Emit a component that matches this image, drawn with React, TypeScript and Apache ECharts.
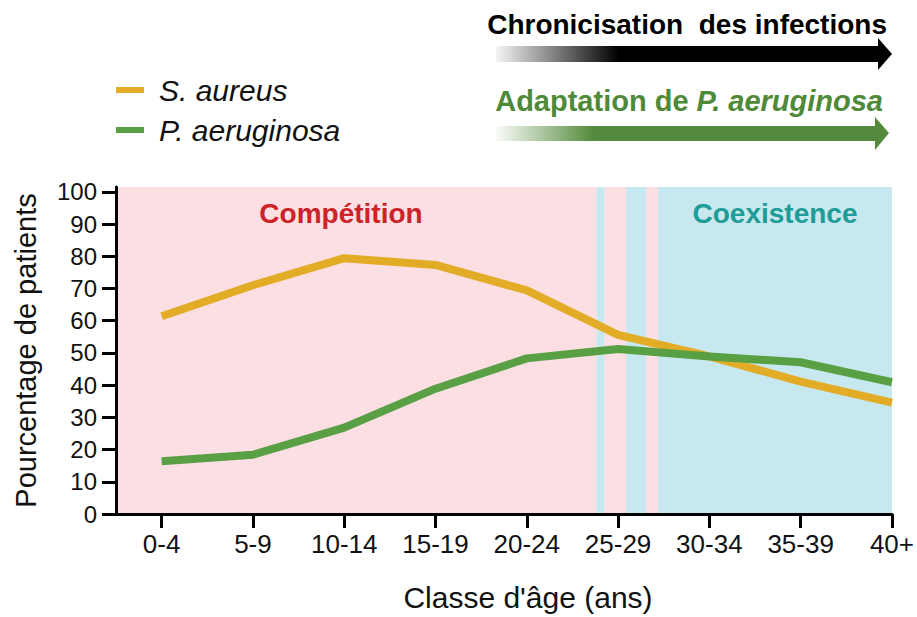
import React, { useEffect, useRef } from "react";
import * as echarts from "echarts";

const categories = ["0-4", "5-9", "10-14", "15-19", "20-24", "25-29", "30-34", "35-39", "40+"];
const sAureus = [61.4, 71.0, 79.4, 77.3, 69.4, 55.6, 48.9, 41.1, 34.6];
const pAeruginosa = [16.4, 18.4, 26.8, 38.9, 48.3, 51.2, 48.9, 47.1, 40.9];
const yTicks = [0, 10, 20, 30, 40, 50, 60, 70, 80, 90, 100];
// background phases: [from, to, phase]
const phases: [number, number, string][] = [
  [-0.5, 4.766, "comp"],
  [4.766, 4.853, "coex"],
  [4.853, 5.088, "comp"],
  [5.088, 5.306, "coex"],
  [5.306, 5.438, "comp"],
  [5.438, 8, "coex"],
];

const FONT = "'Liberation Sans', Arial, Helvetica, sans-serif";
const ORANGE = "#e2ac27";
const GREEN = "#58a043";
const PINK = "#fbdfe2";
const BLUE = "#c7e8ee";

export default function App() {
  const ref = useRef<HTMLDivElement>(null);
  useEffect(() => {
    if (!ref.current) return;
    const chart = echarts.init(ref.current, null, { renderer: "svg" });
    const xs = categories.map((_, i) => i);
    chart.setOption({
      animation: false,
      backgroundColor: "#ffffff",
      textStyle: { fontFamily: FONT },
      grid: { left: 116, right: 24, top: 187, bottom: 100, containLabel: false },
      legend: {
        orient: "vertical",
        left: 116,
        top: 75,
        padding: 0,
        itemGap: 10,
        itemWidth: 28,
        itemHeight: 6,
        icon: "rect",
        textStyle: { fontSize: 30, fontStyle: "italic", color: "#111", fontFamily: FONT, padding: [0, 0, 0, 10] },
        data: ["S. aureus", "P. aeruginosa"],
      },
      xAxis: {
        type: "value",
        min: -0.5,
        max: 8,
        z: 10,
        splitLine: { show: false },
        axisLine: { show: true, onZero: false, lineStyle: { color: "#000", width: 3 } },
        axisTick: { show: true, length: 14, lineStyle: { color: "#000", width: 3 }, customValues: xs },
        axisLabel: {
          customValues: xs,
          margin: 17,
          fontSize: 26,
          color: "#111",
          fontFamily: FONT,
          formatter: (v: number) => categories[Math.round(v)] ?? "",
        },
        name: "Classe d'âge (ans)",
        nameLocation: "middle",
        nameGap: 68,
        nameTextStyle: { fontSize: 30, color: "#111", fontFamily: FONT, padding: [0, 0, 0, 48] },
      },
      yAxis: {
        type: "value",
        min: 0,
        max: 101.5,
        z: 10,
        splitLine: { show: false },
        axisLine: { show: true, onZero: false, lineStyle: { color: "#000", width: 3 } },
        axisTick: { show: true, length: 14, lineStyle: { color: "#000", width: 3 }, customValues: yTicks },
        axisLabel: { customValues: yTicks, margin: 19, fontSize: 24, color: "#111", fontFamily: FONT },
        name: "Pourcentage de patients",
        nameLocation: "middle",
        nameGap: 76,
        nameTextStyle: { fontSize: 29, color: "#111", fontFamily: FONT },
      },
      series: [
        {
          name: "S. aureus",
          type: "line",
          data: sAureus.map((v, i) => [i, v]),
          showSymbol: false,
          symbol: "none",
          color: ORANGE,
          lineStyle: { color: ORANGE, width: 8 },
          z: 3,
          markArea: {
            silent: true,
            z: 1,
            data: phases.map(([a, b, p]) => [
              { xAxis: a, itemStyle: { color: p === "comp" ? PINK : BLUE } },
              { xAxis: b },
            ]),
          },
        },
        {
          name: "P. aeruginosa",
          type: "line",
          data: pAeruginosa.map((v, i) => [i, v]),
          showSymbol: false,
          symbol: "none",
          color: GREEN,
          lineStyle: { color: GREEN, width: 8 },
          z: 4,
        },
      ],
      graphic: [
        {
          type: "text",
          x: 341,
          y: 213,
          style: { text: "Compétition", fill: "#cc2229", font: `bold 28px ${FONT}`, textAlign: "center", textVerticalAlign: "middle" },
          z: 10,
        },
        {
          type: "text",
          x: 775,
          y: 213,
          style: { text: "Coexistence", fill: "#1e9c98", font: `bold 28px ${FONT}`, textAlign: "center", textVerticalAlign: "middle" },
          z: 10,
        },
        {
          type: "text",
          x: 887,
          y: 24,
          style: { text: "Chronicisation  des infections", fill: "#000", font: `bold 28px ${FONT}`, textAlign: "right", textVerticalAlign: "middle" },
        },
        {
          type: "polygon",
          shape: { points: [[496, 46], [878, 46], [878, 38], [892, 54], [878, 70], [878, 62], [496, 62]] },
          style: {
            fill: new echarts.graphic.LinearGradient(0, 0, 1, 0, [
              { offset: 0, color: "rgba(0,0,0,0.04)" },
              { offset: 0.31, color: "#000" },
              { offset: 1, color: "#000" },
            ]),
          },
        },
        {
          type: "text",
          x: 883,
          y: 101,
          style: {
            text: "{a|Adaptation de }{b|P. aeruginosa}",
            fill: "#4e8a38",
            textAlign: "right",
            textVerticalAlign: "middle",
            rich: {
              a: { fontWeight: "bold", fontSize: 29, fontFamily: FONT, fill: "#4e8a38", color: "#4e8a38" },
              b: { fontWeight: "bold", fontStyle: "italic", fontSize: 29, fontFamily: FONT, fill: "#4e8a38", color: "#4e8a38" },
            },
          },
        },
        {
          type: "polygon",
          shape: { points: [[496, 126], [875, 126], [875, 117], [889, 133], [875, 150], [875, 141], [496, 141]] },
          style: {
            fill: new echarts.graphic.LinearGradient(0, 0, 1, 0, [
              { offset: 0, color: "rgba(83,138,59,0.03)" },
              { offset: 0.25, color: "#538a3b" },
              { offset: 1, color: "#538a3b" },
            ]),
          },
        },
      ],
    });
    return () => chart.dispose();
  }, []);
  return <div ref={ref} style={{ width: 917, height: 617, position: "absolute", left: 0, top: 0 }} />;
}
